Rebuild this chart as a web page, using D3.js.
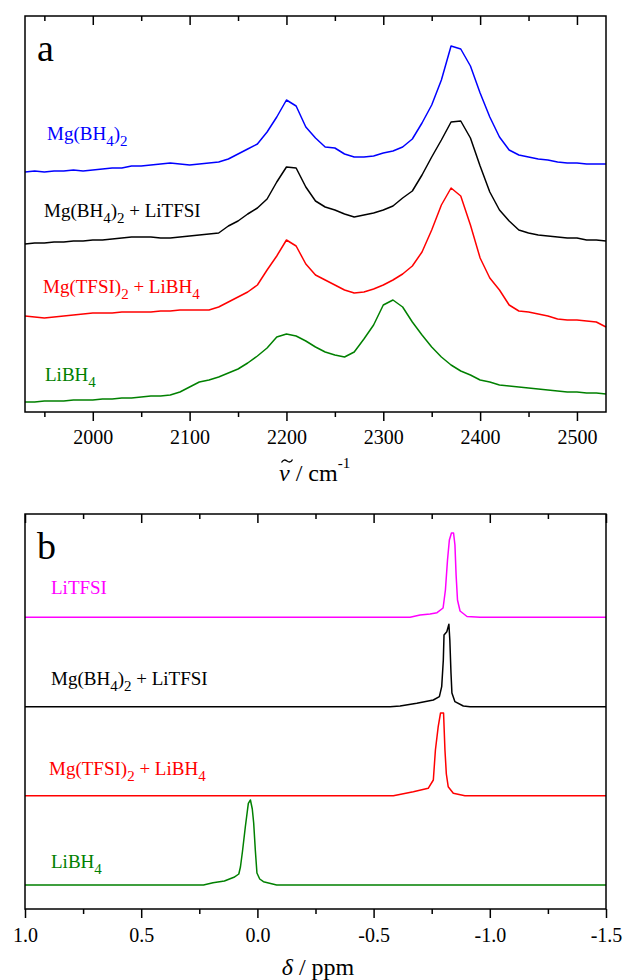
<!DOCTYPE html>
<html><head><meta charset="utf-8">
<script src="https://cdn.jsdelivr.net/npm/d3@7"></script>
<style>
body{margin:0;background:#fff}
svg{display:block}
</style>
</head><body>
<svg id="c" width="623" height="980"></svg>
<script>
// ---------- Panel a: IR spectra (wavenumber, cm-1) ----------
const irWavenumber = [1930,1940,1950,1960,1970,1980,1990,2000,2010,2020,2030,2040,2050,2060,2070,2080,2090,2100,2110,2120,2130,2140,2150,2160,2170,2180,2190,2200,2210,2220,2230,2240,2250,2260,2270,2280,2290,2300,2310,2320,2330,2340,2350,2360,2370,2380,2390,2400,2410,2420,2430,2440,2450,2460,2470,2480,2490,2500,2510,2520,2530];
const irMgBH4 = [240,241,240,241,241,242,241,242,243,244,244,246,246,247,248,249,248,247,248,249,250,253,258,263,268,280,295,312,306,285,274,265,264,258,255,255,256,259,261,265,273,289,307,332,366,363,346,319,295,275,262,257,255,253,252,250,249,249,248,248,248];
const irMgBH4LiTFSI = [168,169,169,170,170,171,171,172,172,173,174,175,175,175,174,174,175,176,177,178,179,186,191,198,204,213,230,245,244,225,211,205,202,198,195,197,199,202,206,214,221,237,255,272,290,291,274,246,220,202,191,182,179,177,176,175,174,174,172,172,171];
const irMgTFSILiBH4 = [96,95,94,95,96,97,98,99,99,99,100,100,100,100,101,101,102,102,102,102,105,110,115,120,127,142,156,172,166,148,137,132,127,122,119,120,123,127,132,138,146,160,182,207,224,216,187,154,134,122,107,101,100,98,96,93,92,92,91,90,85];
const irLiBH4 = [10,10,11,11,11,12,12,12,13,13,14,14,15,16,16,17,20,25,30,32,35,39,43,49,56,64,75,78,76,71,65,60,57,55,60,73,87,107,112,105,90,77,65,55,47,41,37,32,30,27,26,25,24,23,22,21,20,20,19,19,18];
const irMajorTicks = [2000,2100,2200,2300,2400,2500];
const irMinorTicks = [1950,2050,2150,2250,2350,2450];

// ---------- Panel b: NMR (ppm) ----------
const nmrLiTFSI_ppm = [1.0,-0.614,-0.657,-0.700,-0.743,-0.773,-0.799,-0.809,-0.818,-0.826,-0.835,-0.844,-0.850,-0.855,-0.861,-0.872,-0.902,-0.958,-1.5];
const nmrLiTFSI_int = [291.7,291.7,291.7,294,295,296.3,301,319,349,369,376,376,364,334,309,298,292.5,291.7,291.7];
const nmrMgBH4LiTFSI_ppm = [1.0,-0.571,-0.614,-0.686,-0.757,-0.783,-0.793,-0.800,-0.803,-0.815,-0.824,-0.828,-0.833,-0.837,-0.850,-0.886,-0.915,-1.5];
const nmrMgBH4LiTFSI_int = [202.3,202.3,203,205.7,209,212.3,222.3,249,274,277.3,284.7,269,236,216,207.3,203,202.3,202.3];
const nmrMgTFSILiBH4_ppm = [1.0,-0.528,-0.585,-0.671,-0.735,-0.757,-0.766,-0.778,-0.788,-0.801,-0.807,-0.813,-0.821,-0.843,-0.893,-1.5];
const nmrMgTFSILiBH4_int = [113.3,113.3,113.3,117.3,120.7,129,159,182.3,196,196,159,135,122.3,115.7,113.3,113.3];
const nmrLiBH4_ppm = [1.0,0.232,0.191,0.142,0.101,0.080,0.073,0.064,0.052,0.039,0.030,0.022,0.016,0.009,0.002,-0.010,-0.026,-0.083,-1.5];
const nmrLiBH4_int = [24,24,26.3,28,31.7,35,42,58,82,105.7,109,100,86,59,36,30,27.3,24,24];
const nmrMajorTicks = [1.0,0.5,0.0,-0.5,-1.0,-1.5];
const nmrMinorTicks = [0.75,0.25,-0.25,-0.75,-1.25];

// label parts: [text, isSubscript]
const lblMgBH4 = [["Mg(BH",0],["4",1],[")",0],["2",1]];
const lblMgBH4LiTFSI = [["Mg(BH",0],["4",1],[")",0],["2",1],[" + LiTFSI",0]];
const lblMgTFSILiBH4 = [["Mg(TFSI)",0],["2",1],[" + LiBH",0],["4",1]];
const lblLiBH4 = [["LiBH",0],["4",1]];
const lblLiTFSI = [["LiTFSI",0]];

const SERIF = "Liberation Serif, Times New Roman, serif";
const svg = d3.select("#c");
const FONT_TICK = 20, FONT_LBL = 19, FONT_SUB = 15, FONT_TITLE = 24;

function drawLabel(g, parts, x, y, color){
  const t = g.append("text").attr("x", x).attr("y", y).attr("fill", color)
    .attr("font-size", FONT_LBL).attr("font-family", SERIF);
  let sub = false;
  parts.forEach(([s, isSub]) => {
    const ts = t.append("tspan").text(s);
    if (isSub && !sub){ ts.attr("dy", 6).attr("font-size", FONT_SUB); sub = true; }
    else if (isSub && sub){ ts.attr("font-size", FONT_SUB); }
    else if (!isSub && sub){ ts.attr("dy", -6); sub = false; }
  });
}

function panel(opts){
  const {x, y, major, minor, fmt, series, tickPad, letter, letterY} = opts;
  const g = svg.append("g");
  const [x0, x1] = x.range(), [yb, yt] = y.range();
  const line = d3.line().x(d => x(d[0])).y(d => y(d[1]));
  series.forEach(s => {
    const pts = s.xs.map((v, i) => [v, s.ys[i]]);
    g.append("path").attr("d", line(pts)).attr("fill", "none")
      .attr("stroke", s.color).attr("stroke-width", 1.5).attr("stroke-linejoin", "round");
    drawLabel(g, s.label, s.lx, s.ly, s.color);
  });
  const ab = g.append("g").attr("transform", `translate(0,${yb})`)
    .call(d3.axisBottom(x).tickValues(major).tickSize(9).tickPadding(tickPad).tickFormat(fmt));
  const abm = g.append("g").attr("transform", `translate(0,${yb})`)
    .call(d3.axisBottom(x).tickValues(minor).tickSize(5).tickFormat(""));
  const at = g.append("g").attr("transform", `translate(0,${yt})`)
    .call(d3.axisBottom(x).tickValues(major).tickSize(9).tickFormat(""));
  const atm = g.append("g").attr("transform", `translate(0,${yt})`)
    .call(d3.axisBottom(x).tickValues(minor).tickSize(5).tickFormat(""));
  [ab, abm, at, atm].forEach(a => {
    a.attr("font-family", SERIF);
    a.select(".domain").remove();
    a.selectAll("line").attr("stroke", "#000").attr("stroke-width", 1.5);
    a.selectAll("text").attr("font-size", FONT_TICK).attr("fill", "#000").attr("font-family", SERIF);
  });
  g.append("rect").attr("x", x0).attr("y", yt).attr("width", x1 - x0).attr("height", yb - yt)
    .attr("fill", "none").attr("stroke", "#000").attr("stroke-width", 1.5);
  g.append("text").attr("x", 37).attr("y", letterY).attr("font-size", 38)
    .attr("font-family", SERIF).attr("fill", "#000").text(letter);
  return g;
}

// Panel a
const xa = d3.scaleLinear().domain([1930, 2530]).range([25, 606]);
const ya = d3.scaleLinear().domain([0, 396]).range([412, 16]);
panel({
  x: xa, y: ya, major: irMajorTicks, minor: irMinorTicks, fmt: d3.format("d"), tickPad: 9,
  letter: "a", letterY: 61,
  series: [
    {xs: irWavenumber, ys: irMgBH4, color: "#0000ff", label: lblMgBH4, lx: 47, ly: 140},
    {xs: irWavenumber, ys: irMgBH4LiTFSI, color: "#000000", label: lblMgBH4LiTFSI, lx: 44, ly: 217},
    {xs: irWavenumber, ys: irMgTFSILiBH4, color: "#ff0000", label: lblMgTFSILiBH4, lx: 43, ly: 293},
    {xs: irWavenumber, ys: irLiBH4, color: "#008000", label: lblLiBH4, lx: 45, ly: 381}
  ]
});
const ta = svg.append("text").attr("x", 279).attr("y", 481)
  .attr("font-size", FONT_TITLE).attr("fill", "#000").attr("font-family", SERIF);
ta.append("tspan").attr("font-style", "italic").text("\u03BD");
ta.append("tspan").text(" / cm");
ta.append("tspan").attr("dy", -13).attr("font-size", 15).text("-1");
svg.append("path").attr("d", "M281.5,462.5 C283,459.5 285,459.5 287,461 C289,462.5 291,462.5 292.5,459.5")
  .attr("fill", "none").attr("stroke", "#000").attr("stroke-width", 1.3);

// Panel b
const xb = d3.scaleLinear().domain([1.0, -1.5]).range([25, 606]);
const yb = d3.scaleLinear().domain([0, 395]).range([909, 514]);
panel({
  x: xb, y: yb, major: nmrMajorTicks, minor: nmrMinorTicks, fmt: d => d.toFixed(1), tickPad: 10,
  letter: "b", letterY: 559,
  series: [
    {xs: nmrLiTFSI_ppm, ys: nmrLiTFSI_int, color: "#ff00ff", label: lblLiTFSI, lx: 51, ly: 594},
    {xs: nmrMgBH4LiTFSI_ppm, ys: nmrMgBH4LiTFSI_int, color: "#000000", label: lblMgBH4LiTFSI, lx: 51, ly: 685},
    {xs: nmrMgTFSILiBH4_ppm, ys: nmrMgTFSILiBH4_int, color: "#ff0000", label: lblMgTFSILiBH4, lx: 49, ly: 775},
    {xs: nmrLiBH4_ppm, ys: nmrLiBH4_int, color: "#008000", label: lblLiBH4, lx: 51, ly: 868}
  ]
});
const tb = svg.append("text").attr("x", 318).attr("y", 975).attr("text-anchor", "middle")
  .attr("font-size", FONT_TITLE).attr("fill", "#000").attr("font-family", SERIF);
tb.append("tspan").attr("font-style", "italic").text("\u03B4");
tb.append("tspan").text(" / ppm");
</script>
</body></html>
